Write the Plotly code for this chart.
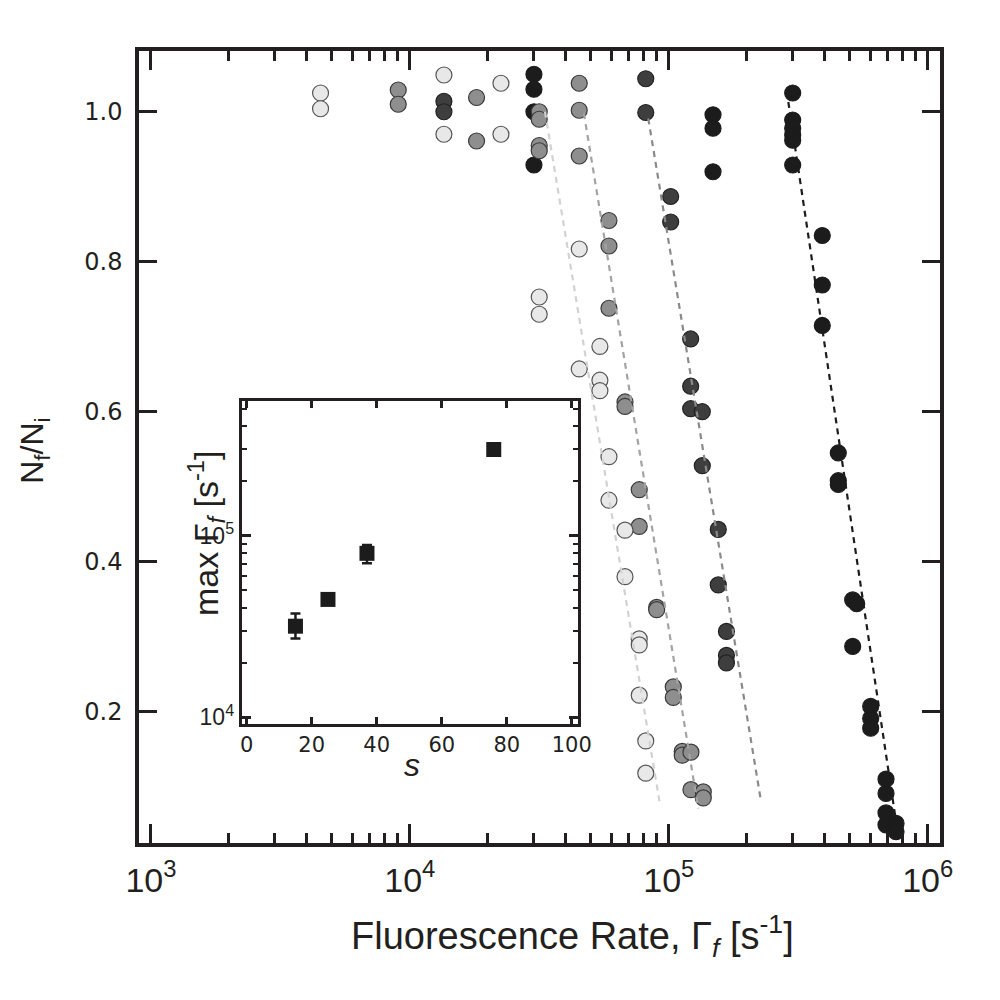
import plotly.graph_objects as go

# ---------------- data (main panel) ----------------
light_x = [4520, 4520, 13540, 13540, 22480, 22480, 31600, 31600, 45100, 45100,
           54200, 54200, 54200, 58750, 58750, 67750, 67750, 76900, 76900, 76900,
           81500, 81500]
light_y = [1.025, 1.004, 1.049, 0.970, 1.038, 0.970, 0.753, 0.730, 0.817, 0.657,
           0.687, 0.642, 0.628, 0.540, 0.482, 0.442, 0.380, 0.297, 0.289, 0.222,
           0.161, 0.118]

medium_x = [9020, 9020, 18100, 18100, 31600, 31600, 31600, 31600, 45100, 45100,
            45100, 58750, 58750, 58750, 67750, 67750, 76900, 76900, 89800, 89800,
            104100, 104100, 112700, 112700, 121800, 121800, 135900, 135900]
medium_y = [1.029, 1.010, 1.019, 0.961, 1.000, 0.990, 0.955, 0.948, 1.038, 1.002,
            0.941, 0.855, 0.821, 0.738, 0.613, 0.607, 0.496, 0.447, 0.339, 0.336,
            0.233, 0.219, 0.147, 0.142, 0.146, 0.096, 0.093, 0.085]

dark_x = [13540, 13540, 81500, 81500, 101700, 101700, 121500, 121500, 121500,
          134700, 134700, 155300, 155300, 167000, 167000, 167000]
dark_y = [1.014, 1.000, 1.044, 0.999, 0.887, 0.853, 0.697, 0.634, 0.604,
          0.600, 0.528, 0.443, 0.369, 0.307, 0.275, 0.265]

black_x = [30150, 30150, 30150, 30150, 148200, 148200, 148200,
           301000, 301000, 301000, 301000, 301000, 301000,
           391600, 391600, 391600, 451500, 451500, 451500,
           513200, 531800, 513200, 602300, 602300, 602300,
           690200, 690200, 690200, 690200, 754500, 754500]
black_y = [1.050, 1.030, 1.000, 0.929, 0.996, 0.978, 0.920,
           1.025, 0.989, 0.978, 0.969, 0.962, 0.929,
           0.835, 0.769, 0.715, 0.545, 0.508, 0.503,
           0.349, 0.344, 0.287, 0.207, 0.191, 0.178,
           0.110, 0.091, 0.065, 0.049, 0.051, 0.040]

# dashed fit lines (start / end points), order: light, medium, dark, black
fit_x_start = [33250, 47000, 83350, 289500]
fit_y_start = [1.000, 0.998, 0.991, 1.013]
fit_x_end = [92500, 130000, 226500, 768000]
fit_y_end = [0.076, 0.071, 0.083, 0.036]

x_tickvals = [1e3, 1e4, 1e5, 1e6]
x_ticktext = ["10<sup>3</sup>", "10<sup>4</sup>", "10<sup>5</sup>", "10<sup>6</sup>"]
y_tickvals = [0.2, 0.4, 0.6, 0.8, 1.0]
y_ticktext = ["0.2", "0.4", "0.6", "0.8", "1.0"]

# ---------------- data (inset) ----------------
inset_s = [15, 25, 37, 76]
inset_max_rate = [31700, 44500, 79800, 297000]
inset_err_plus = [5500, 1800, 9000, 5000]
inset_err_minus = [4600, 1800, 9500, 5000]
inset_x_ticks = [0, 20, 40, 60, 80, 100]
inset_y_tickvals = [1e4, 1e5]
inset_y_ticktext = ["10<sup>4</sup>", "10<sup>5</sup>"]

# ---------------- styles ----------------
FRAME = "#231f20"
series = [
    ("black", black_x, black_y, "#1c1c1c", "#1c1c1c"),
    ("dark", dark_x, dark_y, "#3e3e3e", "#222222"),
    ("medium", medium_x, medium_y, "#8e8e8e", "#3a3a3a"),
    ("light", light_x, light_y, "#e8e8e8", "#555555"),
]
line_colors = ["#d2d2d2", "#a3a3a3", "#8a8a8a", "#1c1c1c"]

fig = go.Figure()

for name, xs, ys, fill, edge in series:
    fig.add_trace(go.Scatter(
        x=xs, y=ys, mode="markers", name=name,
        marker=dict(size=16, color=fill, line=dict(color=edge, width=1.2)),
        xaxis="x", yaxis="y", showlegend=False))

for i in range(4):
    fig.add_trace(go.Scatter(
        x=[fit_x_start[i], fit_x_end[i]], y=[fit_y_start[i], fit_y_end[i]],
        mode="lines", line=dict(color=line_colors[i], width=2.2, dash="6px,5px"),
        xaxis="x", yaxis="y", showlegend=False))

fig.add_trace(go.Scatter(
    x=inset_s, y=inset_max_rate, mode="markers",
    marker=dict(symbol="square", size=15, color="#1c1c1c"),
    error_y=dict(type="data", array=inset_err_plus, arrayminus=inset_err_minus,
                 color="#1c1c1c", thickness=2.5, width=5),
    xaxis="x2", yaxis="y2", showlegend=False))

tick_font_y = dict(family="DejaVu Sans, Arial, sans-serif", size=24, color="#231f20")
tick_font_x = dict(family="Liberation Sans Narrow, Arial Narrow, Liberation Sans, sans-serif",
                   size=34, color="#231f20")

# the page adds an 8px body margin, so margins are reduced by 8 on left/top
fig.update_layout(
    width=1000, height=1000,
    margin=dict(l=131, r=68, t=43, b=165),
    paper_bgcolor="white", plot_bgcolor="white",
    showlegend=False,
    xaxis=dict(type="log", range=[2.954, 6.0475], tickvals=x_tickvals, ticktext=x_ticktext,
               ticks="inside", ticklen=19, tickwidth=3, tickcolor=FRAME,
               minor=dict(ticks="inside", ticklen=10, tickwidth=2.5, tickcolor=FRAME, dtick="D1"),
               showline=True, linecolor=FRAME, linewidth=3.5, mirror="allticks",
               showgrid=False, zeroline=False, tickfont=tick_font_x, ticklabelstandoff=4),
    yaxis=dict(range=[0.0249, 1.081], tickvals=y_tickvals, ticktext=y_ticktext,
               ticks="inside", ticklen=18, tickwidth=3, tickcolor=FRAME,
               showline=True, linecolor=FRAME, linewidth=3.5, mirror="allticks",
               showgrid=False, zeroline=False, tickfont=tick_font_y, ticklabelstandoff=8),
    xaxis2=dict(domain=[0.1282, 0.548], anchor="y2", range=[-1.54, 101.9],
                tickvals=inset_x_ticks, ticks="inside", ticklen=7, tickwidth=2.5, tickcolor=FRAME,
                showline=True, linecolor=FRAME, linewidth=3, mirror="allticks",
                showgrid=False, zeroline=False,
                tickfont=dict(family="DejaVu Sans, Arial, sans-serif", size=21, color="#231f20")),
    yaxis2=dict(domain=[0.1503, 0.558], anchor="x2", type="log", range=[3.963, 5.740],
                tickvals=inset_y_tickvals, ticktext=inset_y_ticktext,
                ticks="inside", ticklen=9, tickwidth=2.5, tickcolor=FRAME,
                minor=dict(ticks="inside", ticklen=5, tickwidth=2, tickcolor=FRAME, dtick="D1"),
                showline=True, linecolor=FRAME, linewidth=3, mirror="allticks",
                showgrid=False, zeroline=False,
                tickfont=dict(family="Liberation Sans, Arial, sans-serif", size=23, color="#231f20")),
)

fig.add_annotation(text="N<sub>f</sub>/N<sub>i</sub>", xref="paper", yref="paper",
                   x=-0.13, y=0.495, textangle=-90, showarrow=False,
                   xanchor="center", yanchor="middle",
                   font=dict(family="Liberation Sans, Arial, sans-serif", size=32, color="#231f20"))
fig.add_annotation(text="Fluorescence Rate, Γ<sub><i>f</i></sub> [s<sup>-1</sup>]",
                   xref="paper", yref="paper", x=0.5406, y=-0.117, showarrow=False,
                   xanchor="center", yanchor="middle",
                   font=dict(family="Liberation Sans Narrow, Arial Narrow, Liberation Sans, sans-serif",
                             size=38, color="#231f20"))
fig.add_annotation(text="max Γ<sub><i>f</i></sub> [s<sup>-1</sup>]", xref="paper", yref="paper",
                   x=0.083, y=0.392, textangle=-90, showarrow=False,
                   xanchor="center", yanchor="middle",
                   font=dict(family="Liberation Sans, Arial, sans-serif", size=34, color="#231f20"))
fig.add_annotation(text="<i>s</i>", xref="paper", yref="paper",
                   x=0.341, y=0.098, showarrow=False, xanchor="center", yanchor="middle",
                   font=dict(family="Liberation Sans, Arial, sans-serif", size=32, color="#231f20"))

fig.write_html("out.html")
